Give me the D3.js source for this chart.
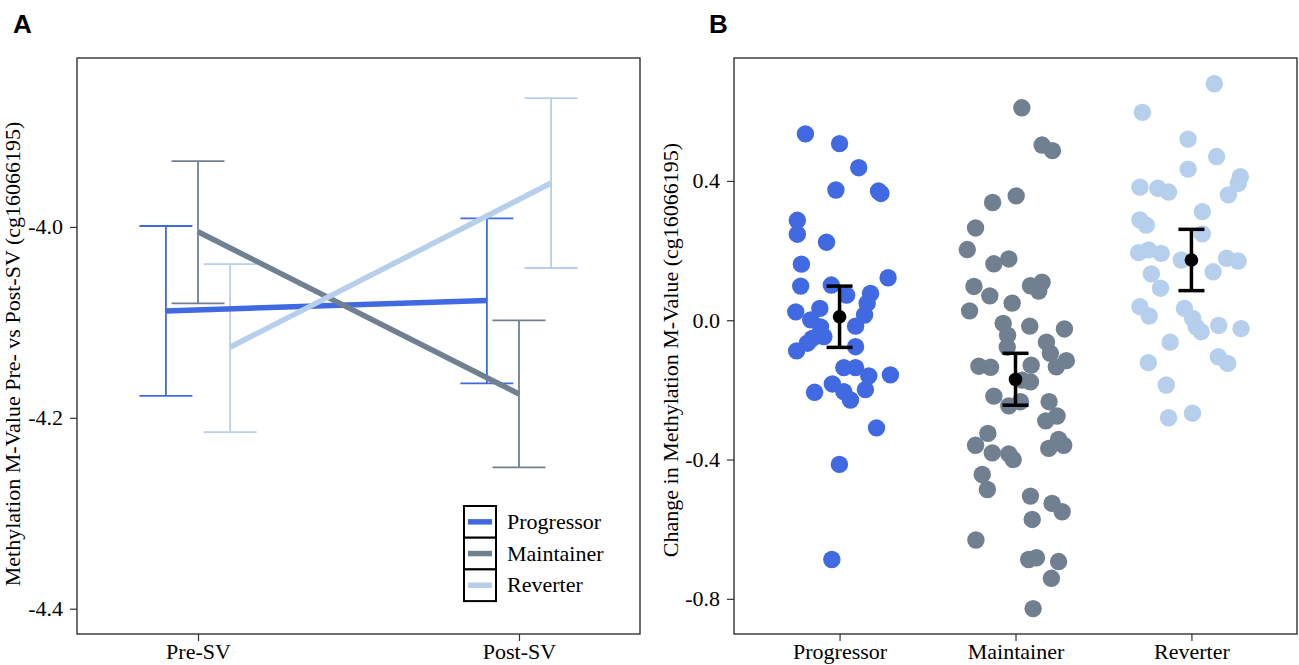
<!DOCTYPE html>
<html>
<head>
<meta charset="utf-8">
<script src="https://cdn.jsdelivr.net/npm/d3@7"></script>
<style>
  body { margin: 0; background: #fff; }
  text { font-family: "Liberation Serif", "Times New Roman", serif; fill: #000; }
</style>
</head>
<body>
<svg id="chart" width="1299" height="665"></svg>
<script>
// groups shared by both panels
const groups = ["Progressor", "Maintainer", "Reverter"];
const colors = ["#4169E1", "#708090", "#B6CFEC"];

// panel A: mean M-value (and error bar ends) per group, pre and post
const timepoints = ["Pre-SV", "Post-SV"];
const meanPre  = [-4.088, -4.005, -4.126];
const lowPre   = [-4.177, -4.080, -4.215];
const highPre  = [-3.999, -3.931, -4.039];
const meanPost = [-4.077, -4.175, -3.954];
const lowPost  = [-4.164, -4.252, -4.043];
const highPost = [-3.991, -4.098, -3.865];
const yTicksA  = [-4.4, -4.2, -4.0];

// panel B: individual change values, [jitter (category units), value]
const progressorPts = [
  [-0.194, 0.535], [0.000, 0.507], [0.109, 0.438], [-0.021, 0.374], [0.221, 0.371],
  [0.235, 0.364], [-0.240, 0.287], [-0.240, 0.247], [-0.074, 0.224], [-0.217, 0.161],
  [-0.221, 0.098], [-0.047, 0.101], [0.040, 0.072], [0.276, 0.122], [0.176, 0.077],
  [0.157, 0.049], [0.142, 0.015], [0.091, -0.017], [-0.249, 0.024], [-0.112, 0.034],
  [-0.164, 0.001], [-0.108, -0.019], [-0.089, -0.047], [-0.155, -0.052], [-0.183, -0.066],
  [-0.244, -0.088], [0.091, -0.076], [0.024, -0.136], [0.091, -0.136], [0.166, -0.160],
  [0.289, -0.157], [0.147, -0.199], [-0.041, -0.183], [0.024, -0.205], [0.062, -0.229],
  [-0.142, -0.207], [0.210, -0.309], [-0.001, -0.414], [-0.044, -0.687]
];
const maintainerPts = [
  [0.036, 0.610], [0.151, 0.503], [0.210, 0.487], [0.004, 0.357], [-0.130, 0.338],
  [-0.227, 0.265], [-0.274, 0.203], [-0.123, 0.162], [-0.038, 0.176], [-0.236, 0.097],
  [-0.146, 0.070], [-0.019, 0.049], [0.085, 0.099], [0.151, 0.109], [0.132, 0.084],
  [-0.261, 0.027], [-0.070, -0.009], [-0.045, -0.043], [-0.047, -0.077], [0.081, -0.017],
  [0.278, -0.025], [0.176, -0.063], [0.198, -0.095], [0.289, -0.116], [0.232, -0.134],
  [-0.208, -0.132], [-0.142, -0.135], [0.089, -0.129], [0.085, -0.177], [0.038, -0.172],
  [-0.123, -0.218], [-0.038, -0.246], [0.028, -0.234], [0.191, -0.234], [0.236, -0.275],
  [0.172, -0.289], [-0.157, -0.325], [-0.227, -0.359], [-0.132, -0.381], [-0.038, -0.384],
  [-0.013, -0.400], [0.245, -0.342], [0.274, -0.359], [0.189, -0.368], [-0.189, -0.443],
  [-0.160, -0.486], [0.085, -0.505], [0.208, -0.526], [0.265, -0.550], [0.095, -0.572],
  [-0.225, -0.631], [0.075, -0.687], [0.119, -0.682], [0.245, -0.693], [0.204, -0.741],
  [0.100, -0.828]
];
const reverterPts = [
  [0.130, 0.679], [-0.279, 0.597], [-0.019, 0.520], [0.143, 0.470], [-0.019, 0.434],
  [0.278, 0.412], [0.266, 0.393], [-0.293, 0.382], [-0.191, 0.379], [-0.130, 0.368],
  [0.210, 0.360], [0.062, 0.312], [-0.293, 0.288], [-0.257, 0.273], [0.062, 0.248],
  [-0.300, 0.194], [-0.244, 0.202], [-0.172, 0.192], [-0.058, 0.173], [0.200, 0.178],
  [0.266, 0.170], [0.123, 0.139], [-0.228, 0.133], [-0.176, 0.092], [-0.293, 0.039],
  [-0.240, 0.012], [-0.040, 0.034], [0.007, 0.005], [0.027, -0.019], [0.055, -0.033],
  [0.155, -0.015], [0.282, -0.024], [-0.121, -0.063], [-0.245, -0.122], [0.153, -0.105],
  [0.206, -0.124], [-0.143, -0.186], [-0.130, -0.280], [0.006, -0.267]
];
const meanB = [0.010, -0.170, 0.173];
const lowB  = [-0.078, -0.244, 0.085];
const highB = [0.098, -0.095, 0.261];
const yTicksB = [-0.8, -0.4, 0.0, 0.4];

const svg = d3.select("#chart");
const plotTop = 58, plotBottom = 634;
const fontSize = 22;

function frame(g, x0, x1) {
  g.append("rect")
    .attr("x", x0).attr("y", plotTop)
    .attr("width", x1 - x0).attr("height", plotBottom - plotTop)
    .attr("fill", "none").attr("stroke", "#333").attr("stroke-width", 1.4);
}

function styleAxis(g) {
  g.select(".domain").remove();
  g.selectAll(".tick line").attr("stroke", "#333").attr("stroke-width", 1.2);
  g.selectAll(".tick text")
    .attr("fill", "#000")
    .style("font-family", "'Liberation Serif', 'Times New Roman', serif")
    .style("font-size", fontSize + "px");
}

// ---------------- Panel A ----------------
const ax0 = 77, ax1 = 640;
const xA = d3.scalePoint().domain(timepoints).range([ax0, ax1]).padding(0.377);
const yA = d3.scaleLinear().domain([-4.4265, -3.823]).range([plotBottom, plotTop]);
const dodge = 0.1 * xA.step();
const offs = [-dodge, 0, dodge];

const gA = svg.append("g");
frame(gA, ax0, ax1);

gA.append("g").attr("transform", `translate(${ax0},0)`)
  .call(d3.axisLeft(yA).tickValues(yTicksA).tickSize(7).tickPadding(7).tickFormat(d => d.toFixed(1)))
  .call(styleAxis);
gA.append("g").attr("transform", `translate(0,${plotBottom})`)
  .call(d3.axisBottom(xA).tickSize(7).tickPadding(2))
  .call(styleAxis);

const seriesA = groups.map((g, i) => ({
  name: g, color: colors[i],
  pts: [
    { t: timepoints[0], m: meanPre[i], lo: lowPre[i], hi: highPre[i], x: xA(timepoints[0]) + offs[i] },
    { t: timepoints[1], m: meanPost[i], lo: lowPost[i], hi: highPost[i], x: xA(timepoints[1]) + offs[i] }
  ]
}));

// error bars
seriesA.forEach(s => {
  const eb = gA.append("g").attr("stroke", s.color).attr("stroke-width", 1.8).attr("fill", "none");
  s.pts.forEach(p => {
    eb.append("line").attr("x1", p.x).attr("x2", p.x).attr("y1", yA(p.lo)).attr("y2", yA(p.hi));
    eb.append("line").attr("x1", p.x - 26.5).attr("x2", p.x + 26.5).attr("y1", yA(p.lo)).attr("y2", yA(p.lo));
    eb.append("line").attr("x1", p.x - 26.5).attr("x2", p.x + 26.5).attr("y1", yA(p.hi)).attr("y2", yA(p.hi));
  });
});

// mean lines
const lineA = d3.line().x(p => p.x).y(p => yA(p.m));
seriesA.forEach(s => {
  gA.append("path").datum(s.pts)
    .attr("d", lineA)
    .attr("fill", "none")
    .attr("stroke", s.color)
    .attr("stroke-width", 5.5);
});

gA.append("text")
  .attr("transform", "translate(20,354) rotate(-90)")
  .attr("text-anchor", "middle")
  .style("font-size", fontSize + "px")
  .text("Methylation M-Value Pre- vs Post-SV (cg16066195)");

// legend
const lx = 464, ly = 506, lw = 32, lh = 31.7;
const leg = gA.append("g");
groups.forEach((g, i) => {
  const y = ly + i * lh;
  leg.append("rect").attr("x", lx).attr("y", y).attr("width", lw).attr("height", lh)
    .attr("fill", "#fff").attr("stroke", "#000").attr("stroke-width", 2);
  leg.append("line").attr("x1", lx + 4).attr("x2", lx + lw - 4)
    .attr("y1", y + lh / 2).attr("y2", y + lh / 2)
    .attr("stroke", colors[i]).attr("stroke-width", 5.5);
  leg.append("text").attr("x", lx + lw + 11).attr("y", y + lh / 2 + 7)
    .style("font-size", fontSize + "px").text(g);
});

svg.append("text").attr("x", 13).attr("y", 33)
  .style("font-family", "'Liberation Sans', Arial, sans-serif")
  .style("font-weight", "bold").style("font-size", "26px").text("A");

// ---------------- Panel B ----------------
const bx0 = 734, bx1 = 1297;
const xB = d3.scalePoint().domain(groups).range([bx0, bx1]).padding(0.6);
const yB = d3.scaleLinear().domain([-0.901, 0.753]).range([plotBottom, plotTop]);

const gB = svg.append("g");
frame(gB, bx0, bx1);

gB.append("g").attr("transform", `translate(${bx0},0)`)
  .call(d3.axisLeft(yB).tickValues(yTicksB).tickSize(7).tickPadding(7).tickFormat(d => d.toFixed(1)))
  .call(styleAxis);
gB.append("g").attr("transform", `translate(0,${plotBottom})`)
  .call(d3.axisBottom(xB).tickSize(7).tickPadding(2))
  .call(styleAxis);

const allPts = [progressorPts, maintainerPts, reverterPts];
allPts.forEach((pts, i) => {
  gB.append("g").selectAll("circle").data(pts).enter().append("circle")
    .attr("cx", d => xB(groups[i]) + d[0] * xB.step())
    .attr("cy", d => yB(d[1]))
    .attr("r", 8.7)
    .attr("fill", colors[i]);
});

const summ = groups.map((g, i) => ({ g: g, m: meanB[i], lo: lowB[i], hi: highB[i] }));
const eB = gB.append("g").attr("stroke", "#000").attr("stroke-width", 3.5);
summ.forEach(s => {
  const x = xB(s.g);
  eB.append("line").attr("x1", x).attr("x2", x).attr("y1", yB(s.lo)).attr("y2", yB(s.hi));
  eB.append("line").attr("x1", x - 13).attr("x2", x + 13).attr("y1", yB(s.lo)).attr("y2", yB(s.lo));
  eB.append("line").attr("x1", x - 13).attr("x2", x + 13).attr("y1", yB(s.hi)).attr("y2", yB(s.hi));
});
gB.append("g").selectAll("circle").data(summ).enter().append("circle")
  .attr("cx", d => xB(d.g)).attr("cy", d => yB(d.m)).attr("r", 6.8).attr("fill", "#000");

gB.append("text")
  .attr("transform", "translate(678,350) rotate(-90)")
  .attr("text-anchor", "middle")
  .style("font-size", fontSize + "px")
  .text("Change in Methylation M-Value (cg16066195)");

svg.append("text").attr("x", 709).attr("y", 33)
  .style("font-family", "'Liberation Sans', Arial, sans-serif")
  .style("font-weight", "bold").style("font-size", "26px").text("B");
</script>
</body>
</html>
